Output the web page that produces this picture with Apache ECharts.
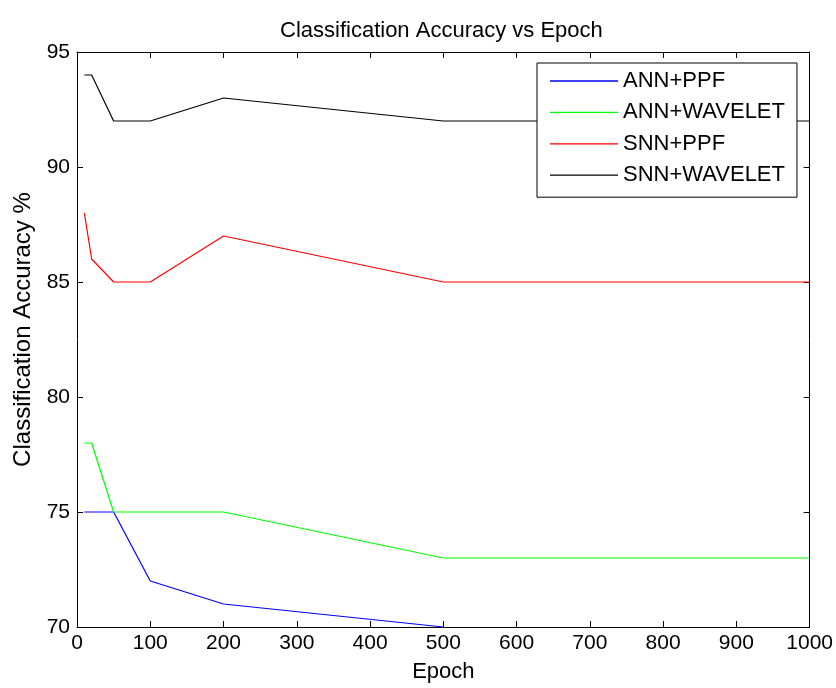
<!DOCTYPE html>
<html>
<head>
<meta charset="utf-8">
<script src="https://cdn.jsdelivr.net/npm/echarts@6/dist/echarts.min.js"></script>
<style>
html, body { margin: 0; padding: 0; background: #ffffff; }
#chart { width: 836px; height: 688px; }
</style>
</head>
<body>
<div id="chart"></div>
<script>
// ---- data ----
var epochs = [10, 20, 50, 100, 200, 500, 1000];
var annPpf = [75, 75, 75, 72, 71, 70, null];
var annWavelet = [78, 78, 75, 75, 75, 73, 73];
var snnPpf = [88, 86, 85, 85, 87, 85, 85];
var snnWavelet = [94, 94, 92, 92, 93, 92, 92];
var seriesNames = ['ANN+PPF', 'ANN+WAVELET', 'SNN+PPF', 'SNN+WAVELET'];
var seriesColors = ['#0000ff', '#00ff00', '#ff0000', '#000000'];
var titleText = 'Classification Accuracy vs Epoch';
var xName = 'Epoch';
var yName = 'Classification Accuracy %';

var FONT = '"Liberation Sans", Arial, sans-serif';

function pairs(ys) {
  var out = [];
  for (var i = 0; i < epochs.length; i++) out.push([epochs[i], ys[i]]);
  return out;
}
var allValues = [annPpf, annWavelet, snnPpf, snnWavelet];

var chart = echarts.init(document.getElementById('chart'), null, { renderer: 'canvas' });

var axisLineStyle = { color: '#000', width: 1 };

var option = {
  animation: false,
  backgroundColor: '#ffffff',
  textStyle: { fontFamily: FONT },
  title: {
    text: titleText,
    left: 275,
    top: 15,
    textStyle: { fontFamily: FONT, fontSize: 22, fontWeight: 'normal', color: '#000' }
  },
  grid: { left: 77, right: 24, top: 52, bottom: 59, containLabel: false },
  legend: {
    data: seriesNames,
    orient: 'vertical',
    left: 537,
    top: 63,
    padding: [7, 12, 11, 13],
    icon: 'rect',
    itemWidth: 68,
    itemHeight: 1.3,
    itemGap: 9.4,
    borderColor: '#000',
    borderWidth: 1,
    backgroundColor: '#ffffff',
    textStyle: { fontFamily: FONT, fontSize: 22, color: '#000' }
  },
  xAxis: [{
    type: 'value',
    min: 0, max: 1000, interval: 100,
    name: xName,
    nameLocation: 'middle',
    nameGap: 34,
    nameTextStyle: { fontFamily: FONT, fontSize: 22, color: '#000' },
    axisLine: { show: true, onZero: false, lineStyle: axisLineStyle },
    axisTick: { show: true, inside: true, length: 6, lineStyle: axisLineStyle },
    axisLabel: { fontFamily: FONT, fontSize: 21, color: '#000', margin: 6,
      formatter: function (v) { return String(v); } },
    splitLine: { show: false }
  }, {
    type: 'value',
    position: 'top',
    min: 0, max: 1000, interval: 100,
    axisLine: { show: true, onZero: false, lineStyle: axisLineStyle },
    axisTick: { show: true, inside: true, length: 6, lineStyle: axisLineStyle },
    axisLabel: { show: false },
    splitLine: { show: false }
  }],
  yAxis: [{
    type: 'value',
    min: 70, max: 95, interval: 5,
    name: yName,
    nameLocation: 'middle',
    nameGap: 42,
    nameTextStyle: { fontFamily: FONT, fontSize: 24, color: '#000', padding: [0, 0, 0, 20] },
    axisLine: { show: true, onZero: false, lineStyle: axisLineStyle },
    axisTick: { show: true, inside: true, length: 6, lineStyle: axisLineStyle },
    axisLabel: { fontFamily: FONT, fontSize: 21, color: '#000', margin: 7,
      formatter: function (v) { return String(v); } },
    splitLine: { show: false }
  }, {
    type: 'value',
    position: 'right',
    min: 70, max: 95, interval: 5,
    axisLine: { show: true, onZero: false, lineStyle: axisLineStyle },
    axisTick: { show: true, inside: true, length: 6, lineStyle: axisLineStyle },
    axisLabel: { show: false },
    splitLine: { show: false }
  }],
  series: seriesNames.map(function (name, i) {
    return {
      name: name,
      type: 'line',
      xAxisIndex: 0,
      yAxisIndex: 0,
      data: pairs(allValues[i]),
      symbol: 'none',
      showSymbol: false,
      connectNulls: false,
      clip: false,
      color: seriesColors[i],
      lineStyle: { color: seriesColors[i], width: 1.2 },
      itemStyle: { color: seriesColors[i] },
      z: 1
    };
  })
};

chart.setOption(option);
</script>
</body>
</html>
